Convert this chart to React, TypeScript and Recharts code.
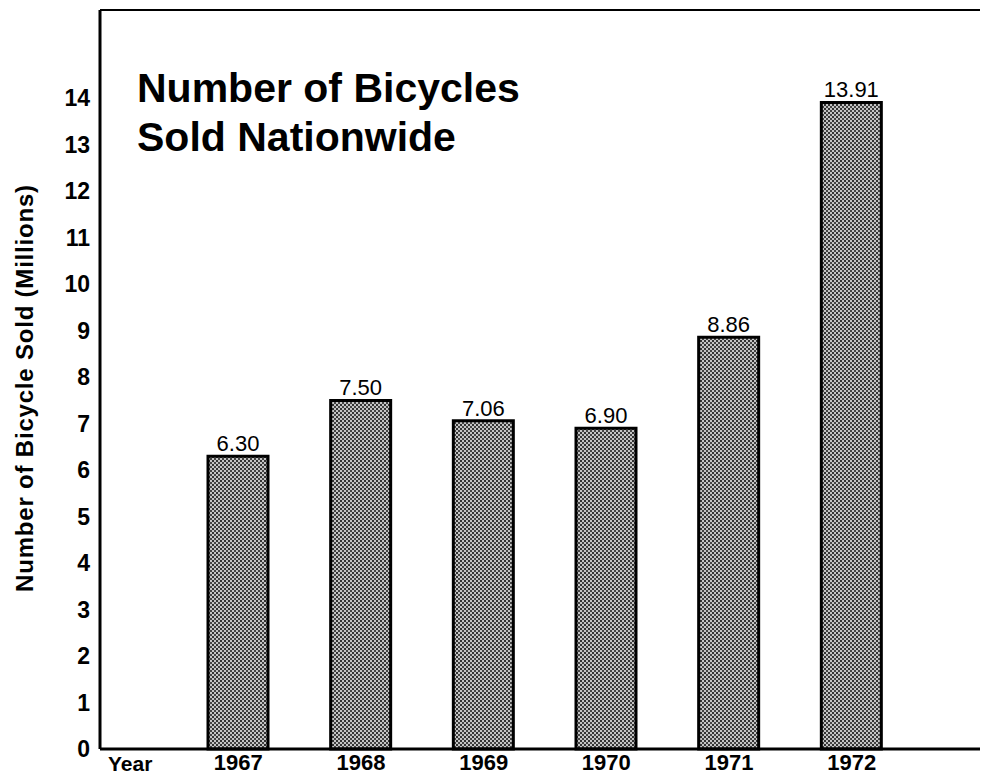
import { Bar, BarChart, LabelList, ReferenceLine, XAxis, YAxis } from "recharts";

const years = ["1967", "1968", "1969", "1970", "1971", "1972"];
const bicyclesSold = [6.3, 7.5, 7.06, 6.9, 8.86, 13.91];
const yTicks = [0, 1, 2, 3, 4, 5, 6, 7, 8, 9, 10, 11, 12, 13, 14];
const yMax = 15.9;

const data = years.map((year, i) => ({ year, sold: bicyclesSold[i] }));

const font = "'Liberation Sans', Arial, Helvetica, sans-serif";

export default function App() {
  return (
    <div style={{ position: "absolute", left: 0, top: 0, width: 982, height: 778, background: "#fff" }}>
      <BarChart
        width={982}
        height={778}
        data={data}
        margin={{ top: 10, right: 2, bottom: 0, left: 0 }}
        barSize={60}
      >
        <defs>
          <pattern id="halftone" width="4" height="4" patternUnits="userSpaceOnUse">
            <rect width="4" height="4" fill="#c4c4c4" />
            <rect x="0" y="0" width="2" height="2" fill="#333" />
            <rect x="2" y="2" width="2" height="2" fill="#444" />
          </pattern>
        </defs>
        <XAxis
          dataKey="year"
          height={29}
          padding={{ left: 77, right: 67 }}
          axisLine={{ stroke: "#000", strokeWidth: 3 }}
          tickLine={false}
          tickSize={0}
          tickMargin={5}
          tick={{ fill: "#000", fontFamily: font, fontWeight: 700, fontSize: 22 }}
        />
        <YAxis
          width={100}
          domain={[0, yMax]}
          ticks={yTicks}
          interval={0}
          axisLine={{ stroke: "#000", strokeWidth: 3 }}
          tickLine={false}
          tickSize={0}
          tickMargin={10}
          tick={{ fill: "#000", fontFamily: font, fontWeight: 700, fontSize: 23 }}
          label={{
            content: () => (
              <text
                x={33}
                y={388}
                transform="rotate(-90, 33, 388)"
                textAnchor="middle"
                fontFamily={font}
                fontWeight={700}
                fontSize={24}
                letterSpacing={0.8}
                fill="#000"
              >
                Number of Bicycle Sold (Millions)
              </text>
            ),
          }}
        />
        <YAxis
          yAxisId="right"
          orientation="right"
          width={0}
          tick={false}
          tickLine={false}
          axisLine={{ stroke: "#000", strokeWidth: 2 }}
        />
        <ReferenceLine y={yMax} stroke="#000" strokeWidth={2} />
        <Bar dataKey="sold" fill="url(#halftone)" stroke="#000" strokeWidth={3} isAnimationActive={false}>
          <LabelList
            dataKey="sold"
            position="top"
            offset={5}
            formatter={(v: number) => v.toFixed(2)}
            style={{ fill: "#000", fontFamily: font, fontWeight: 400, fontSize: 22 }}
          />
        </Bar>
      </BarChart>
      <svg
        width={982}
        height={778}
        style={{ position: "absolute", left: 0, top: 0, pointerEvents: "none" }}
      >
        <text x={137} y={102} fontFamily={font} fontWeight={700} fontSize={41} fill="#000">
          Number of Bicycles
        </text>
        <text x={137} y={151} fontFamily={font} fontWeight={700} fontSize={41} fill="#000">
          Sold Nationwide
        </text>
        <text x={108} y={771} fontFamily={font} fontWeight={700} fontSize={21} fill="#000">
          Year
        </text>
      </svg>
    </div>
  );
}
